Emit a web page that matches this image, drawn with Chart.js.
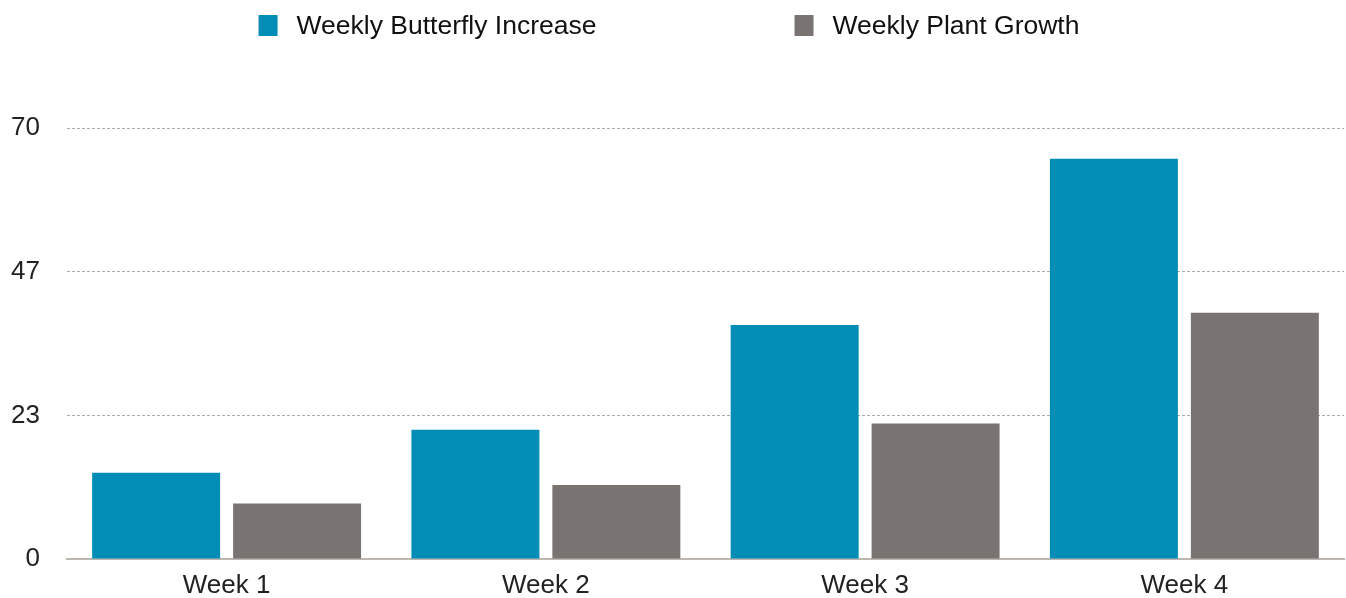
<!DOCTYPE html>
<html lang="en">
<head>
    <meta charset="UTF-8">
    <title>Weekly Butterfly Increase and Plant Growth</title>
    <script src="https://cdn.jsdelivr.net/npm/chart.js"></script>
    <style>
        body {
            margin: 0;
            background: #fff;
            font-family: "Liberation Sans", Arial, sans-serif;
        }
        #wrap {
            width: 1346px;
            height: 598px;
            position: relative;
        }
    </style>
</head>
<body>
    <div id="wrap">
        <canvas id="growthChart"></canvas>
    </div>

    <script>
        // data
        const weeks = ['Week 1', 'Week 2', 'Week 3', 'Week 4'];
        const butterflyIncrease = [14, 21, 38, 65];
        const plantGrowth = [9, 12, 22, 40];
        const yTickLabels = ['0', '23', '47', '70'];

        const blue = '#028db7';
        const grey = '#797471';

        // legend drawn by hand so the wide gap between items can be kept
        const legendBoxes = {
            id: 'legendBoxes',
            afterDraw(chart) {
                const ctx = chart.ctx;
                const sets = chart.data.datasets;
                const boxW = 19, boxH = 21, textGap = 19, itemGap = 198;
                ctx.save();
                ctx.font = '26.5px "Liberation Sans", Arial, sans-serif';
                ctx.textBaseline = 'middle';
                let total = 0;
                const widths = sets.map(ds => ctx.measureText(ds.label).width);
                widths.forEach((w, i) => {
                    total += boxW + textGap + w + (i > 0 ? itemGap : 0);
                });
                let x = chart.width / 2 - total / 2 - 4;
                const y = 26;
                sets.forEach((ds, i) => {
                    ctx.fillStyle = ds.backgroundColor;
                    ctx.fillRect(x, y - 11, boxW, boxH);
                    ctx.fillStyle = '#111';
                    ctx.fillText(ds.label, x + boxW + textGap, y + 1);
                    x += boxW + textGap + widths[i] + itemGap;
                });
                ctx.restore();
            }
        };

        const ctx = document.getElementById('growthChart').getContext('2d');
        new Chart(ctx, {
            type: 'bar',
            data: {
                labels: weeks,
                datasets: [
                    {
                        label: 'Weekly Butterfly Increase',
                        data: butterflyIncrease,
                        backgroundColor: blue
                    },
                    {
                        label: 'Weekly Plant Growth',
                        data: plantGrowth,
                        backgroundColor: grey
                    }
                ]
            },
            options: {
                responsive: true,
                maintainAspectRatio: false,
                animation: false,
                categoryPercentage: 0.883,
                barPercentage: 0.908,
                layout: {
                    padding: { top: 128, left: 11, right: 2, bottom: 0 }
                },
                plugins: {
                    legend: { display: false },
                    tooltip: { enabled: false }
                },
                scales: {
                    x: {
                        grid: { display: false, drawTicks: false },
                        border: { display: true, color: '#bdb7b1', width: 2 },
                        ticks: {
                            color: '#222',
                            padding: 14,
                            font: { family: '"Liberation Sans", Arial, sans-serif', size: 26, lineHeight: 1 }
                        },
                        afterFit: (scale) => { scale.height = 39; }
                    },
                    y: {
                        min: 0,
                        max: 70,
                        grid: {
                            drawTicks: false,
                            color: '#adaaa7',
                            lineWidth: 1
                        },
                        border: { display: false, dash: [3, 2] },
                        ticks: {
                            stepSize: 70 / 3,
                            color: '#222',
                            padding: 27,
                            font: { family: '"Liberation Sans", Arial, sans-serif', size: 26 },
                            callback: (value, index) => yTickLabels[index]
                        },
                        afterFit: (scale) => {
                            scale.width = 56;
                            scale.paddingBottom = 0; // don't let tick padding push the plot up
                        }
                    }
                }
            },
            plugins: [legendBoxes]
        });
    </script>
</body>
</html>
